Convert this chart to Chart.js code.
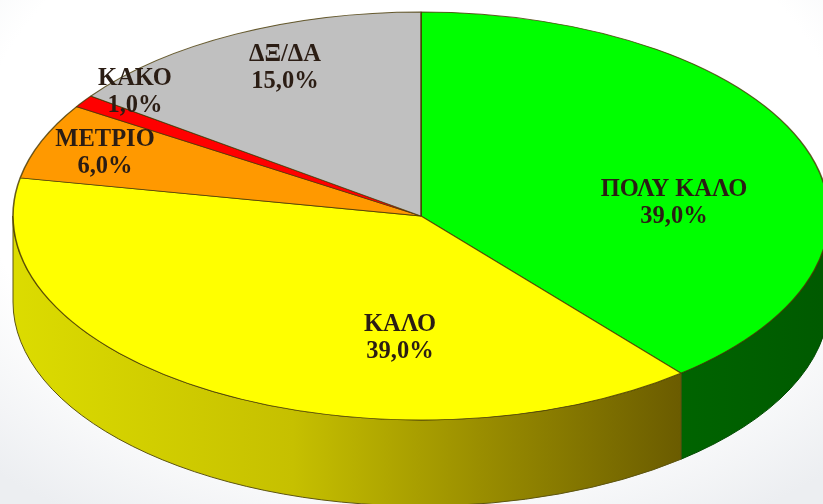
<!DOCTYPE html>
<html lang="el">
<head>
    <meta charset="UTF-8">
    <title>Pie</title>
    <script src="https://cdn.jsdelivr.net/npm/chart.js"></script>
    <style>
        html, body {
            margin: 0;
            padding: 0;
            width: 823px;
            height: 504px;
            overflow: hidden;
            background: radial-gradient(ellipse 620px 420px at 50% 32%, #ffffff 70%, #eceef1 100%);
        }
        canvas {
            display: block;
            filter: blur(0.5px);
        }
    </style>
</head>
<body>
    <canvas id="pie" width="823" height="504"></canvas>

    <script>
        const categories = ['ΠΟΛΥ ΚΑΛΟ', 'ΚΑΛΟ', 'ΜΕΤΡΙΟ', 'ΚΑΚΟ', 'ΔΞ/ΔΑ'];
        const values = [39, 39, 6, 1, 15];
        const colors = ['#00ff00', '#ffff00', '#ff9900', '#ff0000', '#c0c0c0'];

        // label centres in page pixels
        const labelX = [674, 400, 105, 135, 285];
        const labelY = [190, 325, 140, 79, 55];
        const lineGap = 27;

        // the flattened disc
        const centerX = 421;
        const centerY = 216;
        const radiusX = 408;
        const radiusY = 204;
        const depth = 86;

        function sideFill(ctx, index) {
            if (index === 0) {
                const g = ctx.createLinearGradient(680, 0, 823, 0);
                g.addColorStop(0, '#006400');
                g.addColorStop(1, '#005a00');
                return g;
            }
            const g = ctx.createLinearGradient(12, 0, 680, 0);
            g.addColorStop(0, '#dcdc00');
            g.addColorStop(0.42, '#c6c000');
            g.addColorStop(0.7, '#9a8e00');
            g.addColorStop(1, '#6b5c00');
            return g;
        }

        const disc3d = {
            id: 'disc3d',
            beforeDatasetsDraw(chart) {
                const ctx = chart.ctx;
                const arcs = chart.getDatasetMeta(0).data;

                // only the front half of the rim shows
                arcs.forEach((arc, i) => {
                    const a0 = Math.max(arc.startAngle, 0);
                    const a1 = Math.min(arc.endAngle, Math.PI);
                    if (a1 <= a0) return;
                    ctx.beginPath();
                    ctx.ellipse(centerX, centerY, radiusX, radiusY, 0, a0, a1);
                    ctx.ellipse(centerX, centerY + depth, radiusX, radiusY, 0, a1, a0, true);
                    ctx.closePath();
                    ctx.fillStyle = sideFill(ctx, i);
                    ctx.fill();
                    ctx.lineWidth = 1;
                    ctx.strokeStyle = i === 0 ? '#004a00' : '#5c5410';
                    ctx.stroke();
                });

                // squash the library's round pie into the ellipse
                const first = arcs[0];
                ctx.save();
                ctx.translate(centerX, centerY);
                ctx.scale(radiusX / first.outerRadius, radiusY / first.outerRadius);
                ctx.translate(-first.x, -first.y);
            },
            afterDatasetsDraw(chart) {
                const ctx = chart.ctx;
                ctx.restore();

                ctx.save();
                ctx.font = 'bold 24.5px "Liberation Serif", serif';
                ctx.fillStyle = '#2b1d14';
                ctx.textAlign = 'center';
                ctx.textBaseline = 'middle';
                categories.forEach((name, i) => {
                    const pct = values[i].toFixed(1).replace('.', ',') + '%';
                    ctx.fillText(name, labelX[i], labelY[i]);
                    ctx.fillText(pct, labelX[i], labelY[i] + lineGap);
                });
                ctx.restore();
            }
        };

        new Chart(document.getElementById('pie'), {
            type: 'pie',
            data: {
                labels: categories,
                datasets: [{
                    data: values,
                    backgroundColor: colors,
                    borderColor: 'rgba(70, 55, 0, 0.8)',
                    borderWidth: 1,
                    clip: false
                }]
            },
            options: {
                responsive: false,
                animation: false,
                plugins: {
                    legend: { display: false },
                    tooltip: { enabled: false }
                }
            },
            plugins: [disc3d]
        });
    </script>
</body>
</html>
